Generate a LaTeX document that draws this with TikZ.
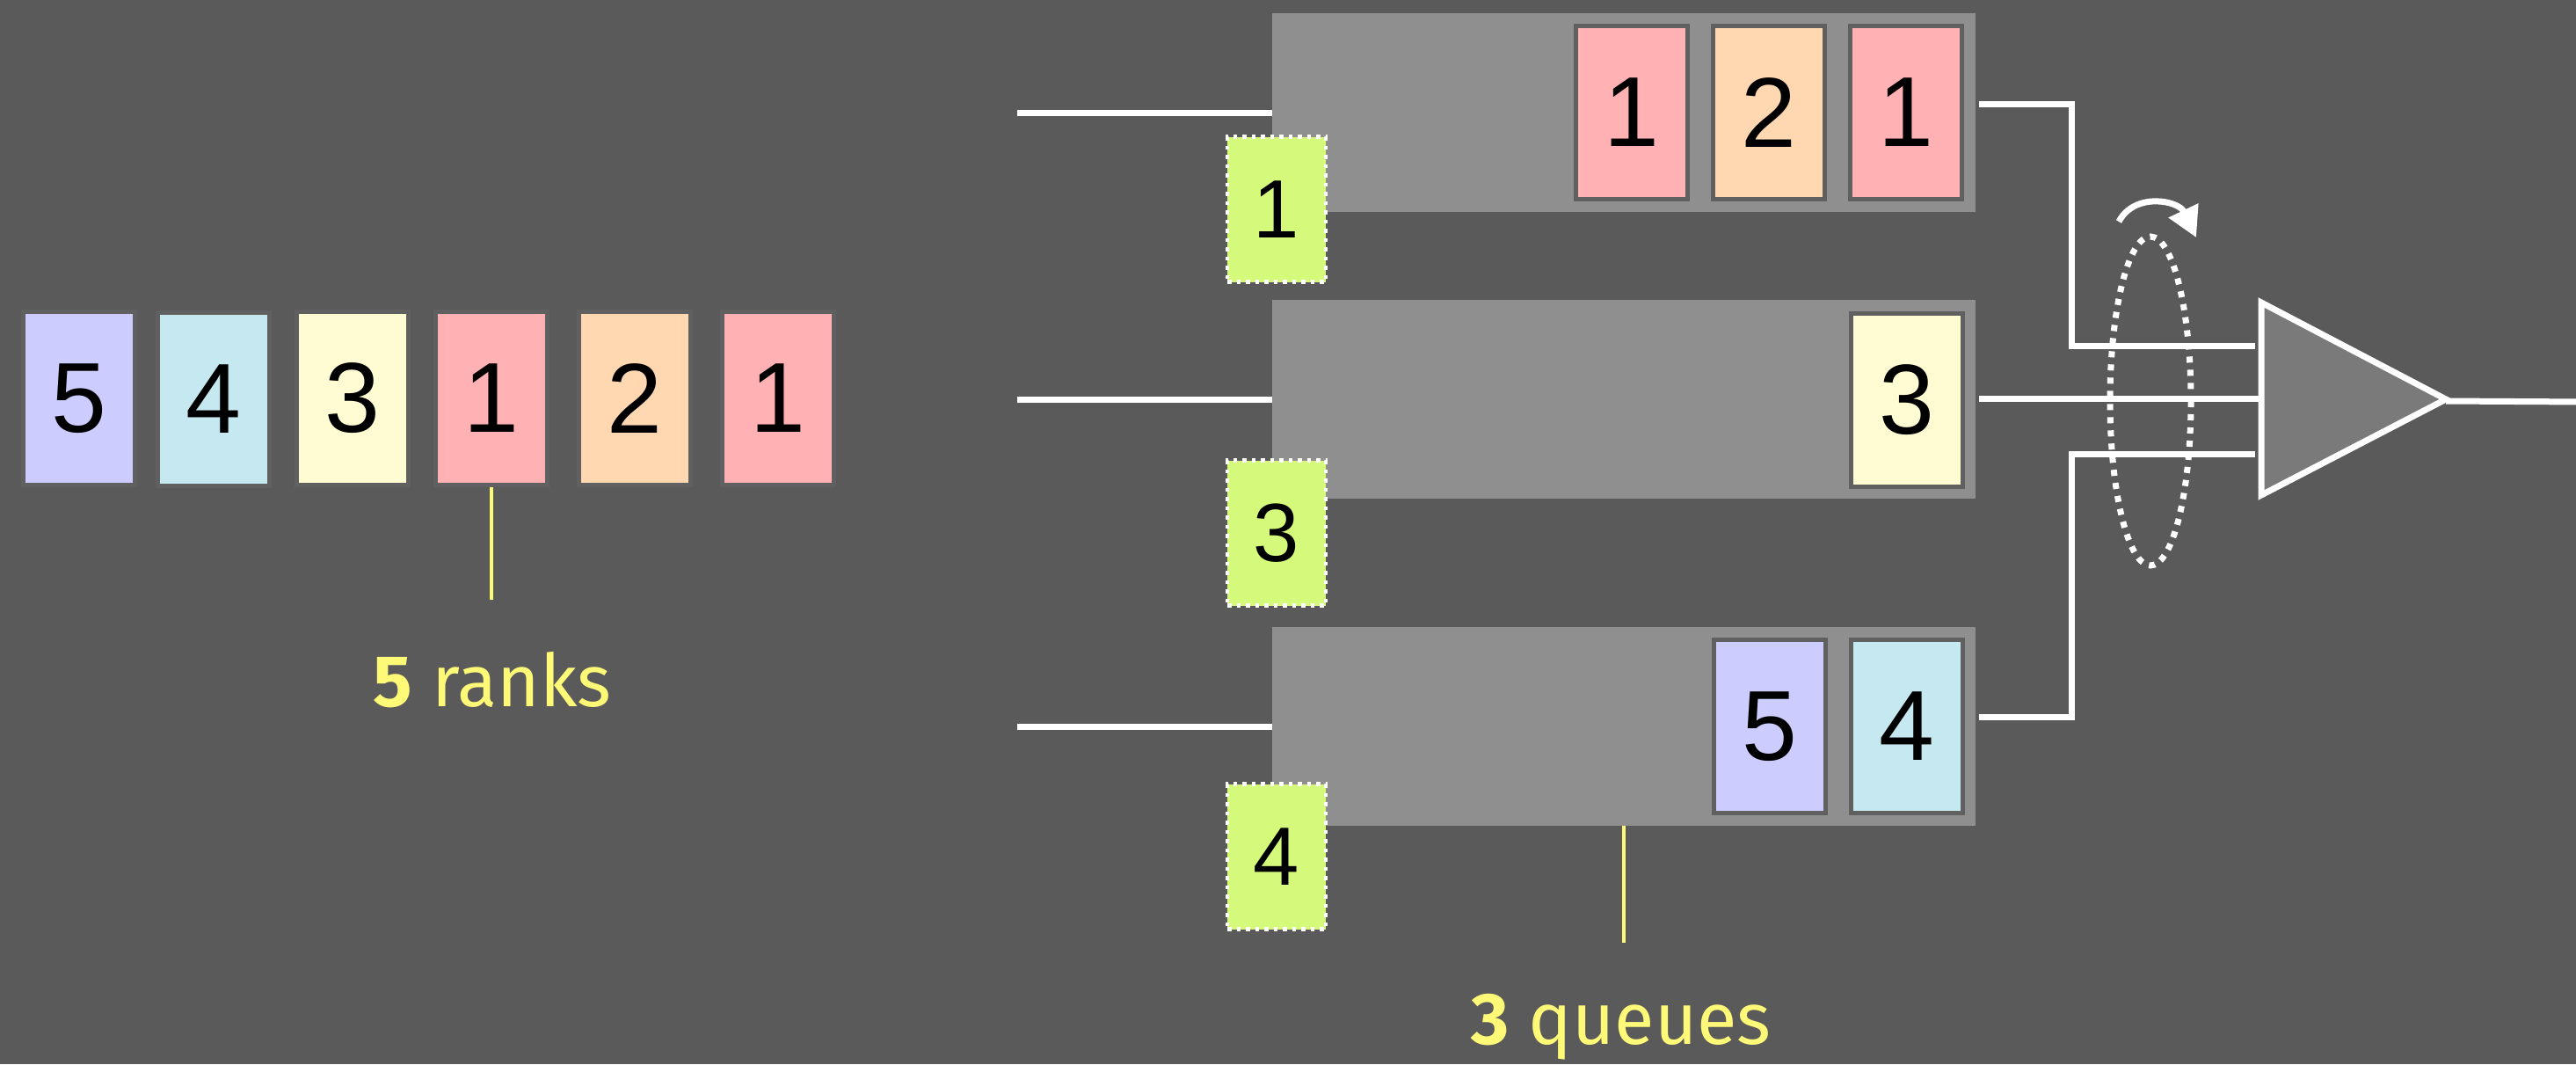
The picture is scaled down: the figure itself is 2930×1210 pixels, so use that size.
\documentclass[tikz,border=0pt]{standalone}
\usepackage{fontspec}
\setmainfont{Fira Sans}
\newfontfamily\digitfont{Liberation Sans}
\usetikzlibrary{arrows.meta}
\definecolor{bgc}{HTML}{5A5A5A}
\definecolor{qc}{HTML}{8F8F8F}
\definecolor{pktborder}{HTML}{606060}
\definecolor{tric}{HTML}{7A7A7A}
\definecolor{lav}{HTML}{CCCCFF}
\definecolor{lblue}{HTML}{C6E8F0}
\definecolor{lyel}{HTML}{FFFBD2}
\definecolor{pink}{HTML}{FFB1B4}
\definecolor{peach}{HTML}{FFD8B1}
\definecolor{grnc}{HTML}{D5FA7B}
\definecolor{labc}{HTML}{FFF978}
\begin{document}
\begin{tikzpicture}[x=1pt,y=-1pt,
  pkt/.style={draw=pktborder, line width=5pt, minimum width=127pt, minimum height=197pt, inner sep=0pt,
    font={\digitfont\fontsize{113}{113}\selectfont}},
  grn/.style={fill=grnc, draw=white, line width=4.5pt, dash pattern=on 4.5pt off 6pt,
    minimum width=112pt, minimum height=165pt, inner sep=0pt,
    font={\digitfont\fontsize{94}{94}\selectfont}},
  queue/.style={fill=qc, minimum width=800pt, minimum height=226pt, inner sep=0pt},
  wire/.style={draw=white, line width=7pt},
  yl/.style={draw=labc, line width=4.5pt},
  lab/.style={text=labc, font={\fontsize{83}{90}\selectfont}, inner sep=0pt}]
\useasboundingbox (0,0) rectangle (2930,1210);
\fill[bgc] (0,0) rectangle (2930,1210);
% left row
\node[pkt, fill=lav]   (r1) at (90,453)  {5};
\node[pkt, fill=lblue] (r2) at (243,454) {4};
\node[pkt, fill=lyel]  (r3) at (401,453) {3};
\node[pkt, fill=pink]  (r4) at (559,453) {1};
\node[pkt, fill=peach] (r5) at (722,453) {2};
\node[pkt, fill=pink]  (r6) at (885,453) {1};
% queues
\node[queue] (q1) at (1847,128) {};
\node[queue] (q2) at (1847,454) {};
\node[queue] (q3) at (1847,826) {};
\node[pkt, fill=pink]  (a1) at (1856,128) {1};
\node[pkt, fill=peach] (a2) at (2012,128) {2};
\node[pkt, fill=pink]  (a3) at (2168,128) {1};
\node[pkt, fill=lyel]  (b1) at (2169,455) {3};
\node[pkt, fill=lav]   (c1) at (2013,826) {5};
\node[pkt, fill=lblue] (c2) at (2169,826) {4};
\node[grn] (g1) at (1452,238) {1};
\node[grn] (g2) at (1452,606) {3};
\node[grn] (g3) at (1452,974) {4};
% input wires
\coordinate (i1) at (1157,128);
\coordinate (i2) at (1157,454);
\coordinate (i3) at (1157,826);
\draw[wire] (i1) -- (q1.west);
\draw[wire] (i2) -- (q2.west);
\draw[wire] (i3) -- (q3.west);
% output wires
\coordinate (o1) at (2251,118);
\coordinate (m1) at (2356,393);
\coordinate (e1) at (2565,393);
\coordinate (o2) at (2251,453);
\coordinate (e2) at (2570,453);
\coordinate (o3) at (2251,815);
\coordinate (m3) at (2356,516);
\coordinate (e3) at (2565,516);
\draw[wire] (o1) -| (m1) -- (e1);
\draw[wire] (o2) -- (e2);
\draw[wire] (o3) -| (m3) -- (e3);
% scheduler triangle
\draw[white, line width=7pt, fill=tric] (2572,344) -- (2782,454) -- (2572,563) -- cycle;
\coordinate (ap) at (2782,456);
\coordinate (out) at (2940,457);
\draw[wire] (ap) -- (out);
% round robin
\draw[white, line width=7pt, dash pattern=on 7pt off 8pt] (2446,456) ellipse [x radius=46, y radius=187];
\draw[white, line width=7pt, -{Triangle[length=34pt,width=36pt]}] (2410,252) .. controls (2428,218) and (2478,228) .. (2498,270);
% labels
\coordinate (y1) at (559,682);
\coordinate (y2) at (1847,1072);
\draw[yl] (r4.south) -- (y1);
\draw[yl] (q3.south) -- (y2);
\node[lab, anchor=base] (l1) at (560,803) {{\bfseries 5} ranks};
\node[lab, anchor=base] (l2) at (1844,1187) {{\bfseries 3} queues};
\end{tikzpicture}
\end{document}
